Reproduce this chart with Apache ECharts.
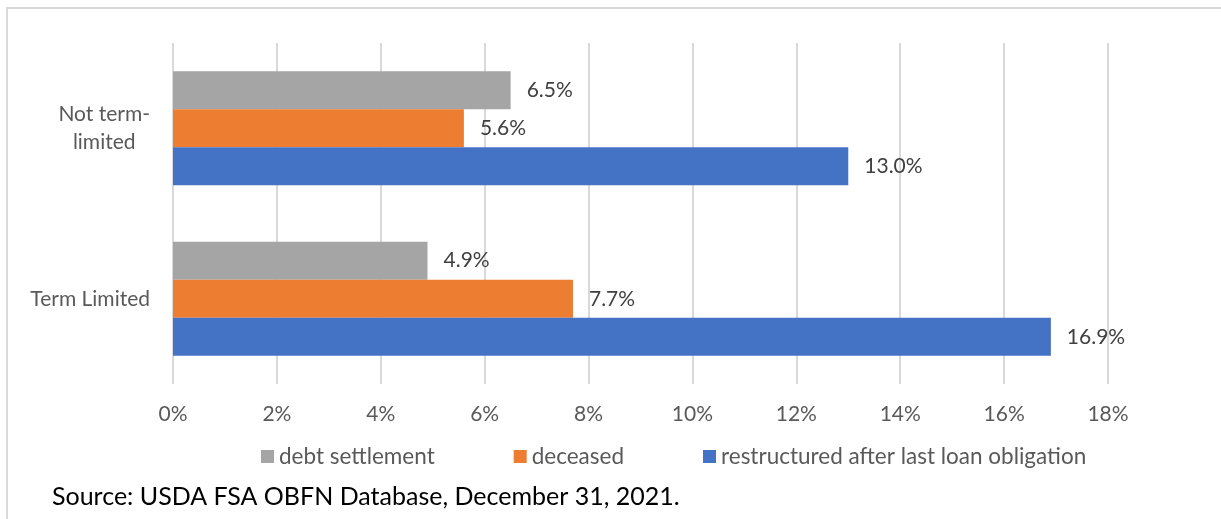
<!DOCTYPE html>
<html>
<head>
<meta charset="utf-8">
<script src="https://cdn.jsdelivr.net/npm/echarts@6/dist/echarts.min.js"></script>
<style>
  html, body { margin: 0; padding: 0; background: #fff; }
  #chart { width: 1221px; height: 519px; }
</style>
</head>
<body>
<div id="chart"></div>
<script>
// categories bottom -> top, as the y axis runs
var categories = ["Term Limited", "Not term-limited"];
var debtSettlement = [4.9, 6.5];
var deceased = [7.7, 5.6];
var restructured = [16.9, 13.0];
var xTicks = { min: 0, max: 18, step: 2 };
var sourceNote = "Source: USDA FSA OBFN Database, December 31, 2021.";

var font = "Lato, 'Liberation Sans', sans-serif";

var chart = echarts.init(document.getElementById("chart"));

function barLabel() {
  return {
    show: true,
    position: "right",
    distance: 16,
    color: "#404040",
    fontSize: 21,
    fontFamily: font,
    formatter: function (p) {
      return p.value.toFixed(1) + "%";
    },
  };
}

chart.setOption({
  animation: false,
  textStyle: { fontFamily: font },
  graphic: [
    {
      type: "rect",
      shape: { x: 7, y: 8, width: 1300, height: 600 },
      style: { fill: "none", stroke: "#d9d9d9", lineWidth: 2 },
      silent: true,
    },
  ],
  title: {
    text: sourceNote,
    left: 47,
    top: 479,
    textStyle: { fontSize: 25, fontWeight: "normal", color: "#000", fontFamily: font },
  },
  legend: {
    data: ["debt settlement", "deceased", "restructured after last loan obligation"],
    left: 256,
    top: 440,
    icon: "rect",
    itemWidth: 13,
    itemHeight: 13,
    itemGap: 79,
    textStyle: { fontSize: 22.5, color: "#595959", fontFamily: font },
  },
  grid: { left: 173, right: 113, top: 43, bottom: 135 },
  xAxis: {
    type: "value",
    min: xTicks.min,
    max: xTicks.max,
    interval: xTicks.step,
    axisLine: { show: false },
    axisTick: { show: false },
    splitLine: { lineStyle: { color: "#d9d9d9", width: 2 } },
    axisLabel: {
      formatter: "{value}%",
      color: "#595959",
      fontSize: 21,
      margin: 20,
    },
  },
  yAxis: {
    type: "category",
    data: categories,
    axisLine: { show: false },
    axisTick: { show: false },
    axisLabel: {
      color: "#595959",
      fontSize: 21,
      margin: 23,
      align: "right",
      formatter: function (v) {
        var parts = v === "Not term-limited" ? ["Not term-", "limited"] : [v];
        return parts.map(function (s) { return "{a|" + s + "}"; }).join("\n");
      },
      rich: {
        a: { align: "center", fontSize: 21, lineHeight: 28, color: "#595959", fontFamily: font },
      },
    },
  },
  series: [
    {
      name: "debt settlement",
      type: "bar",
      data: debtSettlement,
      itemStyle: { color: "#A5A5A5" },
      barGap: "0%",
      barCategoryGap: "33%",
      label: barLabel(),
    },
    {
      name: "deceased",
      type: "bar",
      data: deceased,
      itemStyle: { color: "#ED7D31" },
      label: barLabel(),
    },
    {
      name: "restructured after last loan obligation",
      type: "bar",
      data: restructured,
      itemStyle: { color: "#4472C4" },
      label: barLabel(),
    },
  ],
});
</script>
</body>
</html>
